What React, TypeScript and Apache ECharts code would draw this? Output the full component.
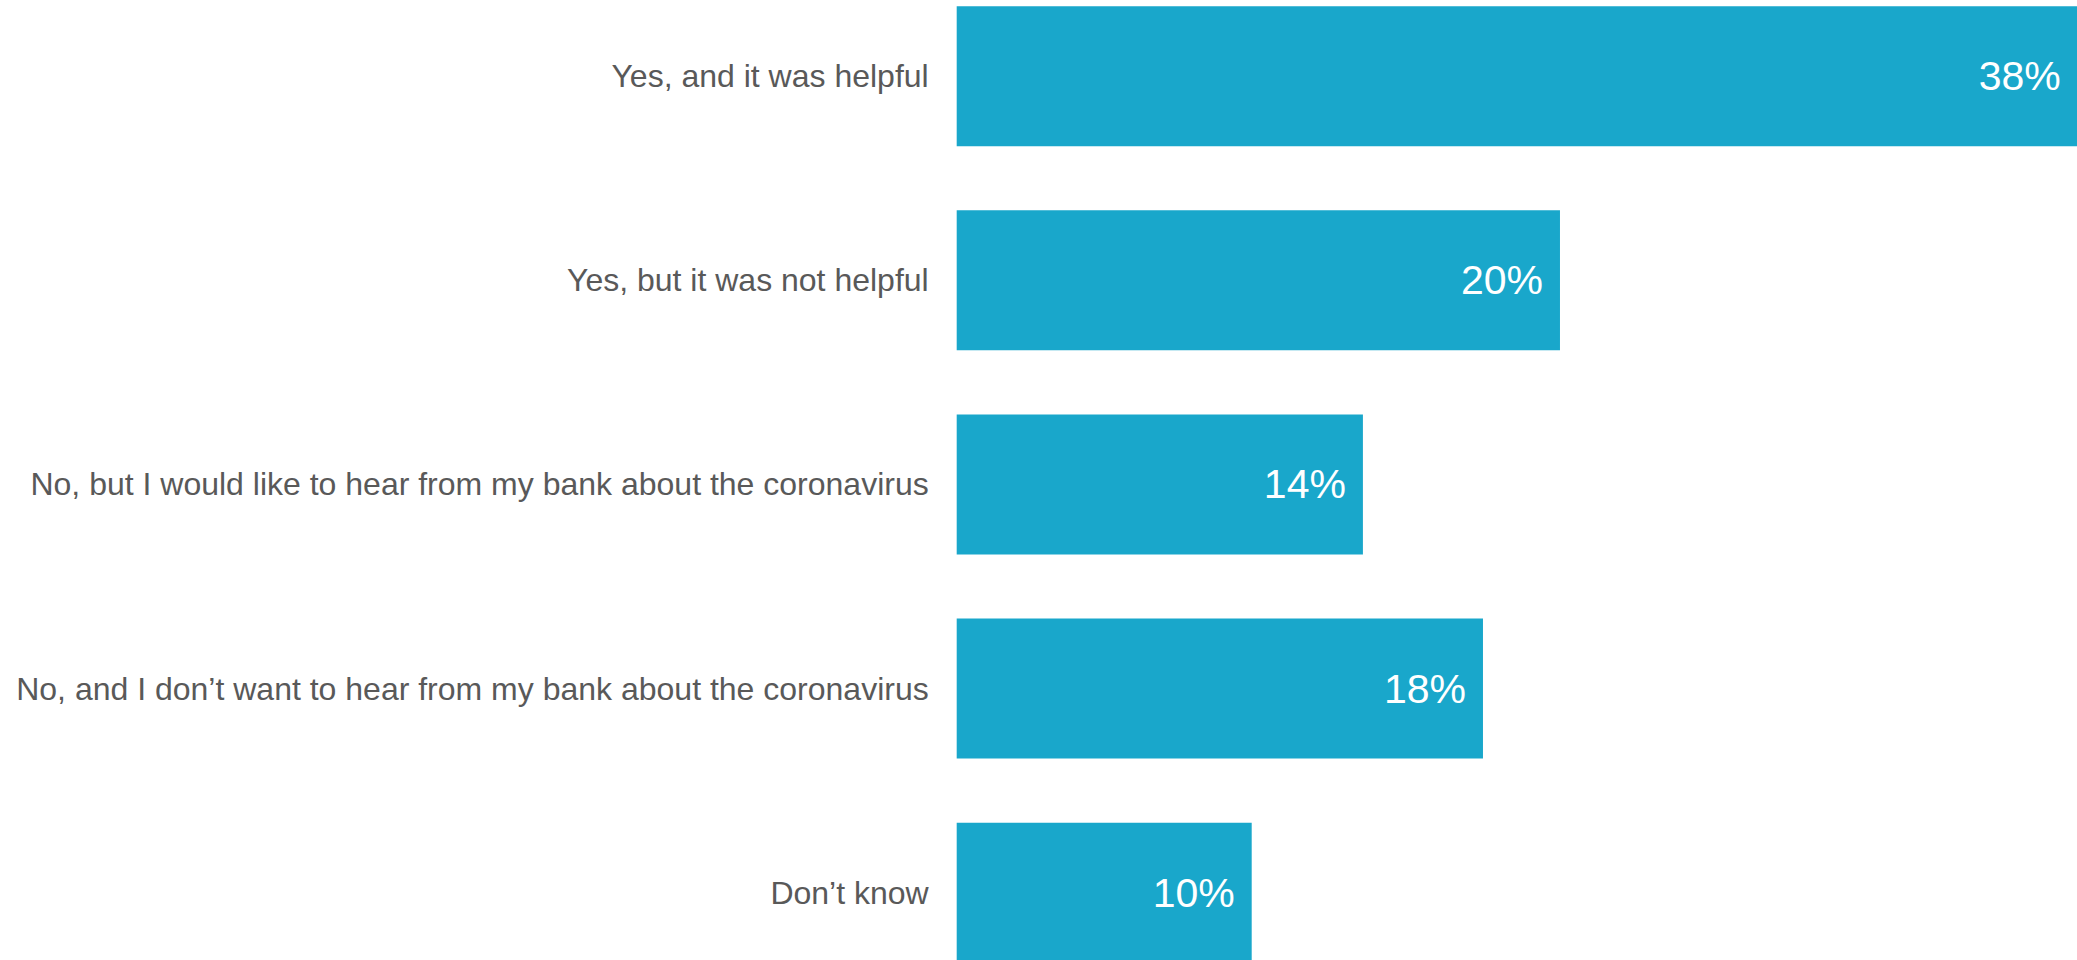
import React, { useEffect, useRef } from "react";
import * as echarts from "echarts";

const categories = [
  "Yes, and it was helpful",
  "Yes, but it was not helpful",
  "No, but I would like to hear from my bank about the coronavirus",
  "No, and I don\u2019t want to hear from my bank about the coronavirus",
  "Don\u2019t know",
];
const values = [38.0, 20.45, 13.77, 17.84, 10.0];

export default function App() {
  const ref = useRef<HTMLDivElement>(null);
  useEffect(() => {
    document.body.style.margin = "0";
    const chart = echarts.init(ref.current!, null, { renderer: "svg" });
    chart.setOption({
      animation: false,
      backgroundColor: "#ffffff",
      grid: {
        left: 956.7,
        top: -25.8,
        width: 1180,
        height: 1020.5,
        outerBoundsMode: "none",
        containLabel: false,
      },
      xAxis: { type: "value", min: 0, max: 40, show: false },
      yAxis: {
        type: "category",
        inverse: true,
        data: categories,
        axisLine: { show: false },
        axisTick: { show: false },
        splitLine: { show: false },
        axisLabel: {
          color: "#595959",
          fontSize: 32,
          fontFamily: "Liberation Sans, Arial, sans-serif",
          margin: 28,
        },
      },
      series: [
        {
          type: "bar",
          data: values,
          barCategoryGap: "31.4%",
          itemStyle: { color: "#19A7CB" },
          label: {
            show: true,
            position: "insideRight",
            distance: 17,
            formatter: (p: any) => Math.round(p.value) + "%",
            color: "#ffffff",
            fontSize: 41,
            fontFamily: "Liberation Sans, Arial, sans-serif",
          },
        },
      ],
    });
    return () => chart.dispose();
  }, []);
  return <div ref={ref} style={{ width: 2077, height: 960 }} />;
}
